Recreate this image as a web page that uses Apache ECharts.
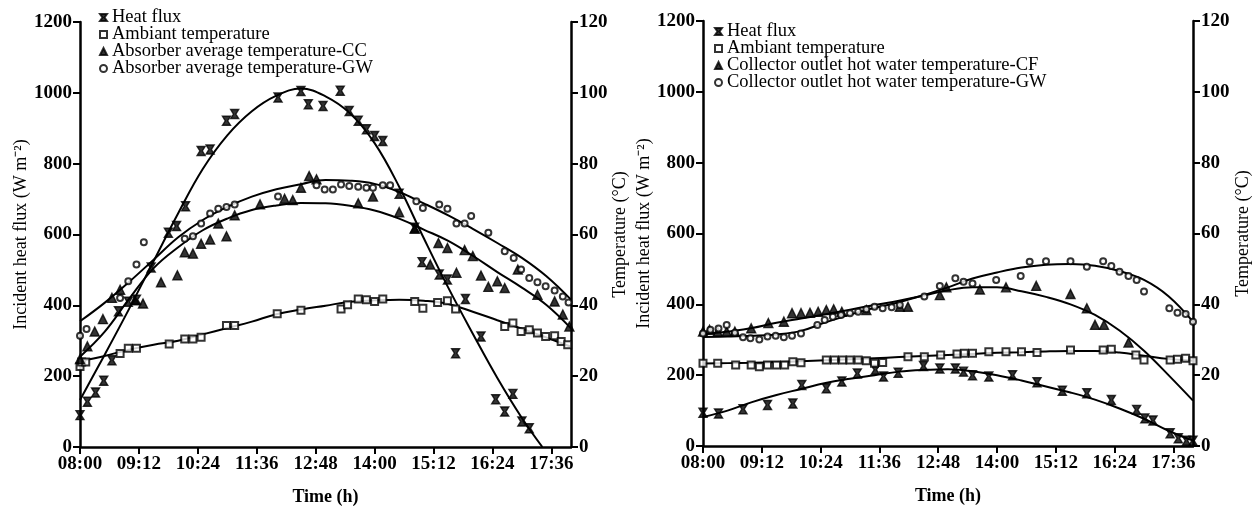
<!DOCTYPE html>
<html>
<head>
<meta charset="utf-8">
<script src="https://cdn.jsdelivr.net/npm/echarts@6/dist/echarts.min.js"></script>
<style>
  html, body { margin: 0; padding: 0; background: #fff; }
  #chart { width: 1255px; height: 506px; }
</style>
</head>
<body>
<div id="chart"></div>
<script>
// all times are minutes after 08:00

// left panel: absorber (CC / GW)
const leftFluxT = [0,9,19,29,39,47,59,69,87,108,118,129,148,159,179,189,242,270,279,297,318,329,340,350,360,370,390,409,418,439,449,459,471,490,508,519,529,540,549];
const leftFluxV = [90,128,154,187,245,383,410,416,507,605,624,680,836,840,921,940,987,1005,968,963,1006,949,921,897,878,864,715,619,522,487,473,265,418,312,135,100,150,72,53];
const leftAmbT = [0,2,7,49,59,69,109,128,138,148,179,189,241,270,319,327,340,350,360,370,409,419,437,449,459,519,529,539,549,559,569,580,588,596];
const leftAmbV = [22.7,24.0,24.0,26.4,27.9,27.9,29.1,30.5,30.5,31.0,34.3,34.3,37.6,38.6,39.0,40.2,41.8,41.6,41.1,41.8,41.1,39.2,40.8,41.3,39.0,34.0,35.0,32.6,33.1,32.2,31.2,31.4,29.8,28.9];
const leftCcT = [0,9,18,28,39,49,67,77,99,119,128,138,148,159,169,179,189,220,250,260,270,280,289,340,358,390,409,428,438,449,460,470,480,490,499,510,519,535,559,580,590,598];
const leftCcV = [24.8,28.4,32.6,36.1,42.1,44.4,41.4,40.5,46.5,48.5,55.0,54.6,57.4,58.6,63.1,59.5,65.4,68.5,70.1,69.7,73.2,76.5,75.6,68.8,70.7,66.3,61.6,51.5,57.6,56.2,49.2,55.6,53.9,48.4,45.2,46.8,44.9,50.1,43.0,41.1,37.4,34.0];
const leftGwT = [0,8,49,59,69,78,128,138,148,159,169,179,189,242,289,299,309,319,329,340,350,358,370,379,411,419,439,449,460,470,478,499,519,530,539,549,559,569,580,590,597];
const leftGwV = [31.4,33.3,42.1,46.8,51.5,57.8,58.8,59.5,63.1,65.9,67.3,67.8,68.5,70.7,73.9,72.7,72.7,74.1,73.7,73.5,73.2,73.2,73.9,73.9,69.4,67.5,68.5,67.3,63.1,63.1,65.2,60.5,55.3,53.4,50.1,47.7,46.5,45.4,44.2,42.5,40.8];

// fitted curves, read every 30 min
const fitT = [0,30,60,90,120,150,180,210,240,270,300,330,360,390,420,450,480,510,540,570,600];
const leftFluxFitT = [0,30,60,90,120,150,180,210,240,270,300,330,360,390,420,450,480,510,540,565];
const leftFluxFit = [133,260,390,525,660,785,880,948,992,1012,990,942,858,735,590,450,320,195,82,0];
const leftAmbFit = [24.2,25.7,27.5,28.9,30.0,31.8,33.6,35.4,37.5,38.8,39.9,41.0,41.4,41.6,41.3,40.4,38.2,35.8,33.4,30.9,28.3];
const leftCcFit = [25.5,32.5,41.8,50.5,56.4,61.2,64.5,66.9,68.2,68.9,68.8,68.1,66.8,64.5,61.4,58.2,54.0,49.4,45.0,40.1,33.5];
const leftGwFit = [35.5,40.7,46.6,52.9,59.2,64.1,67.8,70.7,72.8,74.2,75.4,75.2,74.3,72.0,68.8,65.4,61.6,57.6,53.4,48.2,41.6];

// right panel: collector outlet (CF / GW)
const rightFluxT = [0,19,49,79,110,121,151,170,189,211,221,239,270,290,309,319,330,350,379,409,440,470,500,531,541,551,572,582,592,600];
const rightFluxV = [94,92,104,116,120,172,163,182,205,215,196,207,226,219,219,210,200,196,200,180,156,149,130,102,78,72,36,22,15,15];
const rightAmbT = [0,18,40,59,69,79,90,100,110,120,151,161,171,180,190,200,210,220,251,271,291,311,320,330,350,371,390,409,450,490,500,530,540,572,581,591,600];
const rightAmbV = [23.4,23.4,22.9,22.9,22.4,22.9,22.9,22.9,23.8,23.5,24.3,24.3,24.3,24.3,24.3,24.1,23.4,23.6,25.2,25.2,25.7,26.0,26.2,26.2,26.6,26.6,26.6,26.4,27.1,27.1,27.3,25.7,24.3,24.3,24.5,24.8,24.1];
const rightCfT = [0,8,18,29,39,59,80,99,109,120,131,141,151,160,170,200,241,251,290,298,339,371,408,450,470,480,491,521];
const rightCfV = [32.3,32.8,32.3,32.3,32.3,33.2,34.7,35.1,37.5,37.5,37.6,37.9,38.4,38.6,37.9,38.4,39.3,39.3,42.6,44.8,44.2,44.8,45.2,42.9,38.9,34.2,34.2,29.2];
const rightGwT = [0,9,19,29,39,49,58,69,79,89,99,109,120,140,149,159,169,180,190,200,210,220,231,241,271,290,309,319,330,359,389,400,420,450,470,490,500,510,521,531,540,571,581,591,600];
const rightGwV = [31.8,32.8,33.2,34.2,32.0,30.7,30.4,30.1,30.9,31.1,30.7,31.1,31.8,34.2,35.6,36.5,37.0,37.5,37.9,38.6,39.3,38.9,39.2,39.8,42.2,45.2,47.4,46.4,45.9,46.9,48.0,52.0,52.2,52.2,50.6,52.2,50.8,49.2,48.0,46.9,43.6,38.9,37.6,37.3,35.1];

const rightFluxFit = [82,100,124,144,161,178,190,200,210,215,217,211,200,185,168,151,131,106,77,43,15];
const rightAmbFit = [23.3,23.4,23.5,23.7,23.9,24.2,24.5,24.8,25.1,25.4,25.7,26.0,26.3,26.5,26.7,26.8,26.8,26.4,25.5,24.6,24.1];
const rightCfFit = [31.5,32.3,33.3,34.8,36.0,37.2,38.5,39.8,41.0,42.5,44.0,44.8,44.8,43.7,42.1,40.0,37.0,32.6,26.9,20.0,12.8];
const rightGwFit = [30.8,30.9,31.1,31.5,32.5,34.9,37.1,39.0,40.6,42.6,44.8,47.3,49.0,50.4,51.2,51.4,50.9,49.4,46.9,42.3,35.1];

const leftNames = ['Heat flux', 'Ambiant temperature', 'Absorber average temperature-CC', 'Absorber average temperature-GW'];
const rightNames = ['Heat flux', 'Ambiant temperature', 'Collector outlet hot water temperature-CF', 'Collector outlet hot water temperature-GW'];

const FONT = '"Liberation Serif", "Times New Roman", serif';
const hourglass = 'path://M0,0L10,0L6.5,5L10,10L0,10L3.5,5Z';

function zip(ts, vs) {
  return ts.map((t, i) => [t, vs[i]]);
}

function fmtTime(v) {
  const m = 480 + v;
  const hh = Math.floor(m / 60), mm = m % 60;
  return (hh < 10 ? '0' : '') + hh + ':' + (mm < 10 ? '0' : '') + mm;
}

function xAxis(gridIndex) {
  return {
    type: 'value', gridIndex: gridIndex,
    min: 0, max: 600, interval: 72,
    name: 'Time (h)', nameLocation: 'middle', nameGap: 41,
    nameTextStyle: { fontFamily: FONT, fontSize: 18, fontWeight: 'bold', color: '#000' },
    axisLine: { onZero: false, lineStyle: { color: '#000', width: 2.5 } },
    axisTick: { length: 7, lineStyle: { color: '#000', width: 2 } },
    axisLabel: { margin: 8, showMaxLabel: false, formatter: fmtTime,
      fontFamily: FONT, fontSize: 19, fontWeight: 'bold', color: '#000' },
    splitLine: { show: false }
  };
}

function yAxis(gridIndex, pos, max, interval, name, gap) {
  return {
    type: 'value', gridIndex: gridIndex, position: pos,
    min: 0, max: max, interval: interval,
    name: name, nameLocation: 'middle', nameGap: gap, nameRotate: 90,
    nameTextStyle: { fontFamily: FONT, fontSize: 18, color: '#000' },
    axisLine: { show: true, onZero: false, lineStyle: { color: '#000', width: 2.5 } },
    axisTick: { show: true, length: 7, lineStyle: { color: '#000', width: 2 } },
    axisLabel: { margin: 8, formatter: v => String(v),
      fontFamily: FONT, fontSize: 19, fontWeight: 'bold', color: '#000' },
    splitLine: { show: false }
  };
}

function points(name, data, xi, yi, symbol, size) {
  return {
    name: name, type: 'scatter', xAxisIndex: xi, yAxisIndex: yi,
    symbol: symbol, symbolSize: size, data: data,
    itemStyle: { color: '#000', borderColor: '#000', borderWidth: 1.4 },
    z: 3
  };
}

function curve(data, xi, yi) {
  return {
    name: 'fit', type: 'line', xAxisIndex: xi, yAxisIndex: yi,
    data: data, smooth: 0.4, symbol: 'none',
    lineStyle: { color: '#000', width: 2 }, z: 2
  };
}

function legend(names, left, top) {
  return {
    data: names, orient: 'vertical', left: left, top: top,
    itemGap: -2, itemWidth: 7, itemHeight: 7, selectedMode: false,
    textStyle: { fontFamily: FONT, fontSize: 18.5, color: '#000', lineHeight: 16 }
  };
}

const chart = echarts.init(document.getElementById('chart'));

chart.setOption({
  animation: false,
  backgroundColor: '#fff',
  legend: [legend(leftNames, 94, 3), legend(rightNames, 709, 17)],
  grid: [
    { left: 80, right: 684, top: 22, bottom: 59, outerBoundsMode: 'none', containLabel: false },
    { left: 703, right: 62, top: 21, bottom: 60, outerBoundsMode: 'none', containLabel: false }
  ],
  xAxis: [xAxis(0), xAxis(1)],
  yAxis: [
    yAxis(0, 'left', 1200, 200, 'Incident heat flux (W m\u207B\u00B2)', 48),
    yAxis(0, 'right', 120, 20, 'Temperature (\u00B0C)', 35),
    yAxis(1, 'left', 1200, 200, 'Incident heat flux (W m\u207B\u00B2)', 35),
    yAxis(1, 'right', 120, 20, 'Temperature (\u00B0C)', 41)
  ],
  series: [
    points(leftNames[0], zip(leftFluxT, leftFluxV), 0, 0, hourglass, [8, 9]),
    points(leftNames[1], zip(leftAmbT, leftAmbV), 0, 1, 'emptyRect', 7),
    points(leftNames[2], zip(leftCcT, leftCcV), 0, 1, 'triangle', 9),
    points(leftNames[3], zip(leftGwT, leftGwV), 0, 1, 'emptyCircle', 6),
    curve(zip(leftFluxFitT, leftFluxFit), 0, 0),
    curve(zip(fitT, leftAmbFit), 0, 1),
    curve(zip(fitT, leftCcFit), 0, 1),
    curve(zip(fitT, leftGwFit), 0, 1),

    points(rightNames[0] + ' ', zip(rightFluxT, rightFluxV), 1, 2, hourglass, [8, 9]),
    points(rightNames[1] + ' ', zip(rightAmbT, rightAmbV), 1, 3, 'emptyRect', 7),
    points(rightNames[2], zip(rightCfT, rightCfV), 1, 3, 'triangle', 9),
    points(rightNames[3], zip(rightGwT, rightGwV), 1, 3, 'emptyCircle', 6),
    curve(zip(fitT, rightFluxFit), 1, 2),
    curve(zip(fitT, rightAmbFit), 1, 3),
    curve(zip(fitT, rightCfFit), 1, 3),
    curve(zip(fitT, rightGwFit), 1, 3)
  ]
});
</script>
</body>
</html>
